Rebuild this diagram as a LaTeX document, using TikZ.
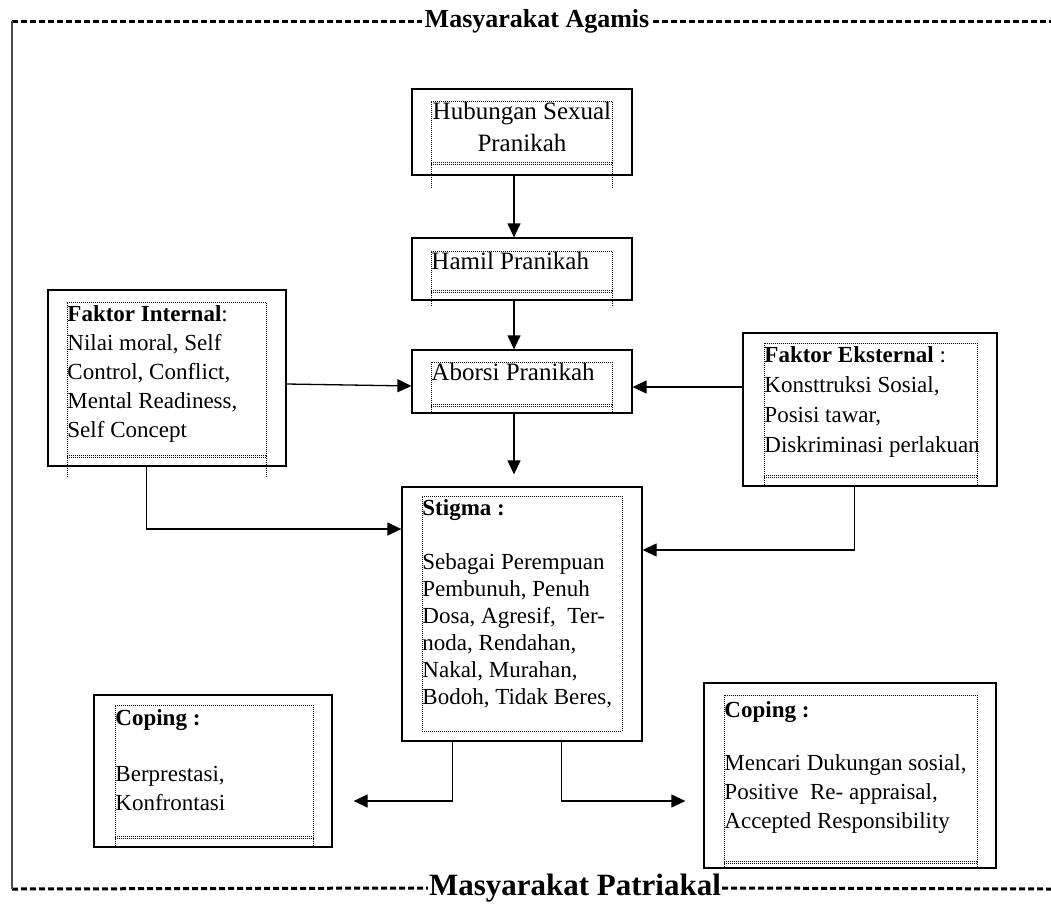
\documentclass[tikz,border=0pt]{standalone}
\usepackage{fontspec}
\setmainfont{Liberation Serif}
\usetikzlibrary{arrows.meta}

\begin{document}
\begin{tikzpicture}
[x=1pt,y=-1pt,
 outbox/.style={rectangle,draw=black,line width=1.3pt,inner sep=0pt},
 inbox/.style={rectangle,draw=black,line width=0.9pt,dash pattern=on 1pt off 1pt,inner sep=0pt,anchor=north west,font=\fontsize{23}{29}\selectfont},
 dotline/.style={draw=black,line width=0.9pt,dash pattern=on 1pt off 1pt},
 dashrule/.style={line width=3pt,dash pattern=on 6pt off 3pt},
 title/.style={font=\bfseries\fontsize{26}{30}\selectfont,inner sep=3pt},
 link/.style={line width=1.3pt,-{Triangle[length=14pt,width=13pt]}}]
\useasboundingbox (0,0) rectangle (1051,910);

% frame: Masyarakat Agamis / Masyarakat Patriakal
\node[title] (agamis) at (537,21) {Masyarakat Agamis};
\node[title,inner sep=1pt,font=\bfseries\fontsize{31}{34}\selectfont] (patriakal) at (575,888) {Masyarakat Patriakal};
\coordinate (tl) at (12,21);
\coordinate (tr) at (1051,21);
\coordinate (bl) at (12,889);
\coordinate (br) at (1051,889);
\draw[dashrule] (tl) -- (agamis.west) (agamis.east) -- (tr);
\draw[dashrule] (bl) -- (patriakal.west) (patriakal.east) -- (br);
\draw[line width=1.5pt,black!70] (tl) -- (bl);

% middle column
\node[outbox,minimum width=220pt,minimum height=86pt] (hub) at (522,132) {};
\node[inbox,font=\fontsize{25}{32}\selectfont] (hubin) at (431,101)
  {\parbox[c][61pt][t]{181pt}{\centering\rule{0pt}{18pt}\mbox{Hubungan Sexual}\\Pranikah}};
\node[outbox,minimum width=220pt,minimum height=62pt] (hamil) at (522,269) {};
\node[inbox,font=\fontsize{25}{32}\selectfont] (hamin) at (431,251)
  {\parbox[c][39pt][t]{181pt}{\rule{0pt}{18pt}Hamil Pranikah}};
\node[outbox,minimum width=220pt,minimum height=63pt] (abor) at (522,381.5) {};
\node[inbox,font=\fontsize{25}{32}\selectfont] (aborin) at (431,362)
  {\parbox[c][42pt][t]{181pt}{\rule{0pt}{18pt}Aborsi Pranikah}};
\node[outbox,minimum width=240pt,minimum height=254pt] (stig) at (522,614) {};
\node[inbox,font=\fontsize{23}{27}\selectfont] (stigin) at (422,496)
  {\parbox[c][235pt][t]{200pt}{\raggedright\rule{0pt}{19pt}\textbf{Stigma :}\\[27pt]
   Sebagai Perempuan\\Pembunuh, Penuh\\Dosa, Agresif,\ \ Ter-\\noda, Rendahan,\\Nakal, Murahan,\\Bodoh, Tidak Beres,}};

% faktor
\node[outbox,minimum width=238pt,minimum height=176pt] (fint) at (167,378) {};
\node[inbox] (fintin) at (67,302)
  {\parbox[c][153pt][t]{199pt}{\raggedright\rule{0pt}{19pt}\textbf{Faktor Internal}:\\Nilai moral, Self\\Control, Conflict,\\Mental Readiness,\\Self Concept}};
\node[outbox,minimum width=254pt,minimum height=153pt] (feks) at (870,409.5) {};
\node[inbox,font=\fontsize{23}{30}\selectfont] (feksin) at (764,343)
  {\parbox[c][132pt][t]{213pt}{\raggedright\rule{0pt}{19pt}\textbf{Faktor Eksternal} :\\Konsttruksi Sosial,\\Posisi tawar,\\\mbox{Diskriminasi perlakuan}}};

% coping
\node[outbox,minimum width=238pt,minimum height=152pt] (copl) at (213,771) {};
\node[inbox,font=\fontsize{23}{28.5}\selectfont] (coplin) at (115,705)
  {\parbox[c][131pt][t]{198pt}{\raggedright\rule{0pt}{20pt}\textbf{Coping :}\\[28pt]Berprestasi,\\Konfrontasi}};
\node[outbox,minimum width=292pt,minimum height=185pt] (copr) at (850,775.5) {};
\node[inbox] (coprin) at (724,695)
  {\parbox[c][166pt][t]{253pt}{\raggedright\rule{0pt}{22pt}\textbf{Coping :}\\[24pt]Mencari Dukungan sosial,\\Positive\ \ Re- appraisal,\\Accepted Responsibility}};

% dotted bottoms of the inner boxes
\draw[dotline] ([yshift=-2pt]hubin.south west) -- ([yshift=-2pt]hubin.south east) (hubin.south west) -- ++(0,26) (hubin.south east) -- ++(0,26);
\draw[dotline] ([yshift=-2pt]hamin.south west) -- ([yshift=-2pt]hamin.south east) (hamin.south west) -- ++(0,15) (hamin.south east) -- ++(0,15);
\draw[dotline] ([yshift=-2pt]aborin.south west) -- ([yshift=-2pt]aborin.south east) (aborin.south west) -- ++(0,9) (aborin.south east) -- ++(0,9);
\draw[dotline] ([yshift=-2pt]fintin.south west) -- ([yshift=-2pt]fintin.south east) (fintin.south west) -- ++(0,22) (fintin.south east) -- ++(0,22);
\draw[dotline] ([yshift=-2pt]feksin.south west) -- ([yshift=-2pt]feksin.south east) (feksin.south west) -- ++(0,11) (feksin.south east) -- ++(0,11);
\draw[dotline] ([yshift=-2pt]coplin.south west) -- ([yshift=-2pt]coplin.south east) (coplin.south west) -- ++(0,11) (coplin.south east) -- ++(0,11);
\draw[dotline] ([yshift=-2pt]coprin.south west) -- ([yshift=-2pt]coprin.south east) (coprin.south west) -- ++(0,7) (coprin.south east) -- ++(0,7);

% arrows
\draw[link] ([xshift=-8pt]hub.south) -- ([xshift=-8pt]hamil.north);
\draw[link] ([xshift=-8pt]hamil.south) -- ([xshift=-8pt]abor.north);
\draw[link] ([xshift=-8pt]abor.south) -- ([xshift=-8pt,yshift=12pt]stig.north);
\draw[link] ([yshift=-6pt]fint.east) -- ([yshift=-4.5pt]abor.west);
\draw[link] ([yshift=22.5pt]feks.west) -- ([yshift=-5.5pt]abor.east);
\draw[link] ([xshift=99pt]fint.south west) |- ([yshift=85pt]stig.west);
\draw[link] ([xshift=112pt]feks.south west) |- ([yshift=64pt]stig.east);
\draw[link] ([xshift=51pt]stig.south west) |- ([xshift=21pt,yshift=-30pt]copl.east);
\draw[link] ([xshift=160pt]stig.south west) |- ([xshift=-18pt,yshift=-25.5pt]copr.west);
\end{tikzpicture}
\end{document}
